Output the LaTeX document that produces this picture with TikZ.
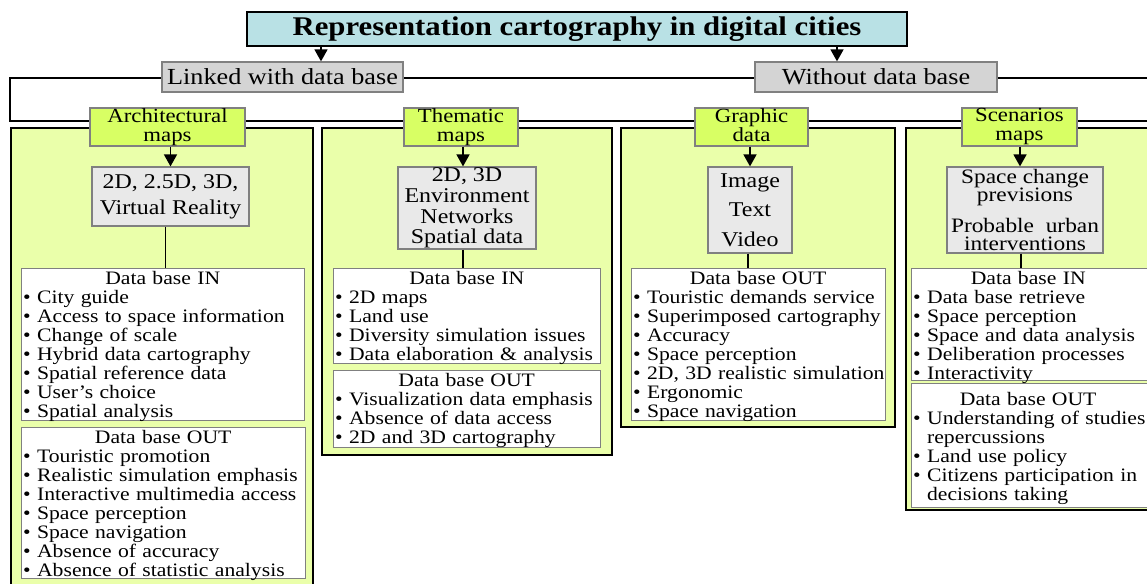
\documentclass[tikz,border=0pt]{standalone}
\usepackage{fontspec}
\setmainfont{Liberation Serif}[FakeStretch=1.14]
\usetikzlibrary{arrows.meta}
\definecolor{titlec}{RGB}{185,225,229}
\definecolor{linkc}{RGB}{212,212,212}
\definecolor{lvtwoc}{RGB}{216,255,100}
\definecolor{panelc}{RGB}{234,255,170}
\definecolor{grayc}{RGB}{233,233,233}
\definecolor{bordc}{RGB}{128,128,128}
\tikzset{
  bus/.style={line width=1.3pt, draw=black},
  panel/.style={draw=black, line width=1.6pt, fill=panelc},
  box/.style={rectangle, inner sep=0pt, align=center},
  titlebox/.style={box, draw=black, line width=1.4pt, fill=titlec, font=\fontsize{27}{27}\selectfont\bfseries},
  linkbox/.style={box, draw=bordc, line width=1.3pt, fill=linkc, font=\fontsize{23}{23}\selectfont},
  lvtwo/.style={box, draw=bordc, line width=1.2pt, fill=lvtwoc, font=\fontsize{20}{19}\selectfont},
  graybox/.style={box, draw=bordc, line width=1.2pt, fill=grayc},
  listbox/.style={rectangle, inner sep=0pt, draw=bordc, line width=1.2pt, fill=white, anchor=north west},
  listtext/.style={inner sep=0pt, anchor=north west, align=left, text width=320pt, font=\fontsize{19}{19}\selectfont},
  arr/.style={line width=1.6pt, -{Triangle[length=12pt,width=13pt]}},
  conn/.style={line width=1.2pt},
}
\newcommand{\hd}[2]{\makebox[#1pt]{#2}}
\begin{document}
\begin{tikzpicture}[x=1pt,y=-1pt]
\useasboundingbox (0,0) rectangle (1147,583);
\clip (0,0) rectangle (1147,583);
% bus lines
\coordinate (lc) at (10,78);
\coordinate (bc) at (10,121);
\coordinate (re1) at (1150,78);
\coordinate (re2) at (1150,121);
\draw[bus] (re1) -- (lc) -- (bc) -- (re2);
% panels
\draw[panel] (11,128) rectangle (313,610);
\draw[panel] (322,128) rectangle (612,455);
\draw[panel] (621,128) rectangle (895,427);
\draw[panel] (906,128) rectangle (1170,510);
% level two boxes
\node[lvtwo, minimum width=155pt, minimum height=38pt] (l1) at (167.5,127) {Architectural\\maps};
\node[lvtwo, minimum width=114pt, minimum height=38pt] (l2) at (461,127) {Thematic\\maps};
\node[lvtwo, minimum width=113pt, minimum height=38pt] (l3) at (751.5,127) {Graphic\\data\vphantom{p}};
\node[lvtwo, minimum width=115pt, minimum height=38pt] (l4) at (1019.5,127) {Scenarios\\maps};
% title and categories
\node[titlebox, minimum width=660pt, minimum height=34pt] (title) at (577,29) {Representation cartography in digital cities};
\node[linkbox, minimum width=241pt, minimum height=30pt] (linked) at (282.5,77) {Linked with data base};
\node[linkbox, minimum width=242pt, minimum height=30pt] (without) at (876,77) {Without data base};
% gray boxes
\node[graybox, minimum width=157pt, minimum height=59pt, font=\fontsize{21}{26}\selectfont] (g1) at (170.5,196.5) {2D, 2.5D, 3D,\\Virtual Reality};
\node[graybox, minimum width=138pt, minimum height=82pt, font=\fontsize{21}{20.7}\selectfont] (g2) at (467,208) {2D, 3D\\Environment\\Networks\\Spatial data};
\node[graybox, minimum width=84pt, minimum height=86pt, font=\fontsize{21}{29.5}\selectfont] (g3) at (750,210) {Image\\Text\\Video};
\node[graybox, minimum width=156pt, minimum height=86pt, font=\fontsize{20.5}{18.5}\selectfont] (g4) at (1025,210) {Space change\\previsions\\[11pt]Probable\ \ urban\\interventions};
% list boxes
\node[listbox, minimum width=283pt, minimum height=152pt] (in1) at (21,268) {};
\node[listbox, minimum width=284pt, minimum height=151pt] (out1) at (21,427) {};
\node[listbox, minimum width=267pt, minimum height=95pt] (in2) at (333,268) {};
\node[listbox, minimum width=267pt, minimum height=77pt] (out2) at (333,370) {};
\node[listbox, minimum width=254pt, minimum height=152pt] (out3) at (631,268) {};
\node[listbox, minimum width=260pt, minimum height=112pt] (in4) at (911,268) {};
\node[listbox, minimum width=260pt, minimum height=124pt] (out4) at (911,383) {};
% list texts
\node[listtext] (t1) at ([xshift=2pt,yshift=-3pt]in1.north west) {\hd{279}{Data base IN}\\• City guide\\• Access to space information\\• Change of scale\\• Hybrid data cartography\\• Spatial reference data\\• User’s choice\\• Spatial analysis};
\node[listtext] (t2) at ([xshift=2pt,yshift=-3pt]out1.north west) {\hd{280}{Data base OUT}\\• Touristic promotion\\• Realistic simulation emphasis\\• Interactive multimedia access\\• Space perception\\• Space navigation\\• Absence of accuracy\\• Absence of statistic analysis};
\node[listtext] (t3) at ([xshift=2pt,yshift=-3pt]in2.north west) {\hd{263}{Data base IN}\\• 2D maps\\• Land use\\• Diversity simulation issues\\• Data elaboration \& analysis};
\node[listtext] (t4) at ([xshift=2pt,yshift=-3pt]out2.north west) {\hd{263}{Data base OUT}\\• Visualization data emphasis\\• Absence of data access\\• 2D and 3D cartography};
\node[listtext] (t5) at ([xshift=2pt,yshift=-3pt]out3.north west) {\hd{250}{Data base OUT}\\• Touristic demands service\\• Superimposed cartography\\• Accuracy\\• Space perception\\• 2D, 3D realistic simulation\\• Ergonomic\\• Space navigation};
\node[listtext] (t6) at ([xshift=2pt,yshift=-3pt]in4.north west) {\hd{230}{Data base IN}\\• Data base retrieve\\• Space perception\\• Space and data analysis\\• Deliberation processes\\• Interactivity};
\node[listtext] (t7) at ([xshift=2pt,yshift=-9pt]out4.north west) {\hd{230}{Data base OUT}\\• Understanding of studies\\\phantom{•\ }repercussions\\• Land use policy\\• Citizens participation in\\\phantom{•\ }decisions taking};
% arrows
\draw[arr] ([xshift=38.5pt]linked.north |- title.south) -- ([xshift=38.5pt]linked.north);
\draw[arr] ([xshift=-39pt]without.north |- title.south) -- ([xshift=-39pt]without.north);
\draw[arr] (l1.south -| g1.north) -- (g1.north);
\draw[arr] ([xshift=-4pt]l2.south -| g2.north) -- ([xshift=-4pt]g2.north);
\draw[arr] (l3.south -| g3.north) -- (g3.north);
\draw[arr] ([xshift=-5pt]l4.south -| g4.north) -- ([xshift=-5pt]g4.north);
% connectors
\draw[conn] ([xshift=-5pt]g1.south) -- ([xshift=-5pt]g1.south |- in1.north);
\draw[conn] ([xshift=-4pt]g2.south) -- ([xshift=-4pt]g2.south |- in2.north);
\draw[conn] ([xshift=-2pt]g3.south) -- ([xshift=-2pt]g3.south |- out3.north);
\draw[conn] ([xshift=-4pt]g4.south) -- ([xshift=-4pt]g4.south |- in4.north);
\end{tikzpicture}
\end{document}
